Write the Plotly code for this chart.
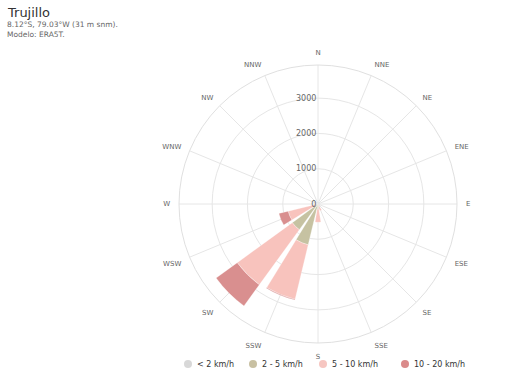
import plotly.graph_objects as go

directions = ["N", "NNE", "NE", "ENE", "E", "ESE", "SE", "SSE",
              "S", "SSW", "SW", "WSW", "W", "WNW", "NW", "NNW"]
angles = [i * 22.5 for i in range(16)]

series_names = ["< 2 km/h", "2 - 5 km/h", "5 - 10 km/h", "10 - 20 km/h"]
calm = [5, 2, 2, 2, 2, 2, 5, 10, 20, 30, 30, 10, 5, 2, 2, 2]
light = [5, 2, 2, 2, 2, 5, 10, 40, 120, 1160, 870, 60, 10, 5, 2, 2]
moderate = [5, 2, 2, 2, 2, 5, 15, 150, 380, 1590, 1930, 800, 40, 10, 5, 5]
strong = [0, 0, 0, 0, 0, 0, 0, 0, 0, 20, 740, 270, 0, 0, 0, 0]
series_values = [calm, light, moderate, strong]
colors = ["#d9d9d9", "#c6c2a2", "#f8c3bd", "#d98f8f"]
legend_colors = ["#d8d8d8", "#c8c0a2", "#f6c6c1", "#da8a8a"]

radial_ticks = [0, 1000, 2000, 3000]
radial_max = 3940

W, H = 529, 382


def px(x):
    return x / W


def py(y):
    return 1 - y / H


fig = go.Figure()
for name, vals, col in zip(series_names, series_values, colors):
    fig.add_trace(go.Barpolar(
        r=vals, theta=angles, width=[18] * 16, name=name,
        marker=dict(color=col, line=dict(color="rgba(255,255,255,0.6)", width=0.5)),
        showlegend=False,
    ))

fig.update_layout(
    width=W, height=H,
    margin=dict(l=0, r=0, t=0, b=0),
    paper_bgcolor="white",
    showlegend=False,
    font=dict(family="DejaVu Sans", color="#666666", size=8),
    polar=dict(
        domain=dict(x=[px(179), px(457)], y=[py(343), py(65)]),
        bgcolor="white",
        barmode="stack",
        angularaxis=dict(
            direction="clockwise", rotation=90,
            tickmode="array", tickvals=angles, ticktext=directions,
            showgrid=True, gridcolor="#e6e6e6", gridwidth=1,
            showline=True, linecolor="#e0e0e0", linewidth=1,
            ticks="outside", ticklen=7, tickcolor="rgba(0,0,0,0)",
            tickfont=dict(size=7, color="#666666"),
        ),
        radialaxis=dict(
            range=[0, radial_max], angle=90, side="counterclockwise",
            tickmode="array", tickvals=radial_ticks,
            ticktext=[str(v) for v in radial_ticks],
            showgrid=True, gridcolor="#e6e6e6", gridwidth=1,
            showline=False, ticks="",
            tickfont=dict(size=8, color="#666666"),
            tickangle=90,
        ),
    ),
)

fig.add_annotation(text="Trujillo", xref="paper", yref="paper",
                   x=px(5), y=py(3), xanchor="left", yanchor="top",
                   showarrow=False, font=dict(size=13, color="#333333"))
fig.add_annotation(text="8.12°S, 79.03°W (31 m snm).<br>Modelo: ERA5T.",
                   xref="paper", yref="paper",
                   x=px(5), y=py(18), xanchor="left", yanchor="top",
                   align="left", showarrow=False,
                   font=dict(size=7.5, color="#666666"))

# manual legend (circle markers + labels)
legend_x = [188, 253, 323, 405]
legend_y = 364
for name, col, lx in zip(series_names, legend_colors, legend_x):
    fig.add_shape(type="circle", xref="paper", yref="paper",
                  xsizemode="pixel", ysizemode="pixel",
                  xanchor=px(lx), yanchor=py(legend_y),
                  x0=-4, x1=4, y0=-4, y1=4,
                  fillcolor=col, line=dict(width=0))
    fig.add_annotation(text=name, xref="paper", yref="paper",
                       x=px(lx + 7), y=py(legend_y), xanchor="left",
                       yanchor="middle", showarrow=False,
                       font=dict(size=8, color="#333333"))

fig.write_html("out.html", config={"displayModeBar": False},
               post_script="document.body.style.margin='0';")
